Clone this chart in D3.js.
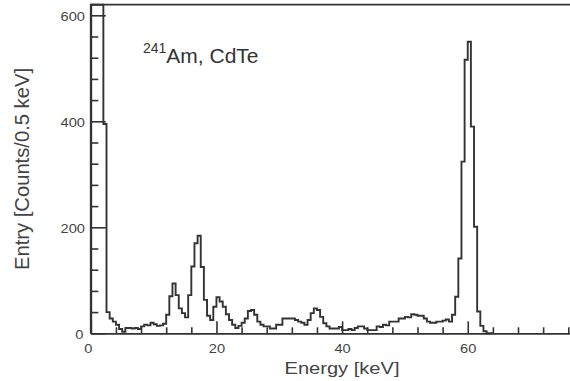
<!DOCTYPE html>
<html>
<head>
<meta charset="utf-8">
<script src="https://cdn.jsdelivr.net/npm/d3@7"></script>
<style>
  body { margin: 0; background: #fff; }
  svg { display: block; font-family: "Liberation Sans", Arial, sans-serif; }
  .axis path, .axis line { stroke: #333; stroke-width: 1.6; }
  .axis text { fill: #444; font-size: 12px; }
</style>
</head>
<body>
<svg id="chart" width="570" height="381"></svg>
<script>
// bin width 0.5 keV, first bin starts at 0 keV
var binWidth = 0.5;
var counts = [
  2000, 2000, 2000, 1500, 395, 40, 28, 22, 16, 8,
  3, 10, 10, 9, 10, 8, 13, 16, 15, 20,
  17, 14, 15, 18, 35, 70, 94, 72, 47, 38,
  30, 72, 126, 170, 184, 125, 63, 33, 25, 50,
  68, 60, 50, 36, 25, 16, 10, 14, 20, 28,
  42, 44, 35, 22, 16, 13, 13, 9, 9, 16,
  16, 28, 28, 28, 28, 25, 22, 20, 16, 25,
  38, 47, 44, 31, 19, 13, 9, 9, 9, 12,
  6, 6, 8, 6, 10, 13, 13, 9, 6, 6,
  6, 13, 12, 16, 15, 22, 22, 22, 28, 28,
  31, 30, 36, 35, 33, 33, 28, 22, 20, 20,
  22, 22, 24, 26, 22, 35, 69, 141, 324, 516,
  550, 390, 201, 41, 14, 4, 0, 0
];
var xMajor = [0, 20, 40, 60];
var yMajor = [0, 200, 400, 600];

var svg = d3.select("#chart");

var x = d3.scaleLinear().domain([0, 80]).range([90.8, 593.4]);
var y = d3.scaleLinear().domain([0, 620]).range([333.3, 4.7]).clamp(true);

// stretch text horizontally like the scanned figure
function stretch(sel, k) {
  sel.each(function() {
    var w = this.getComputedTextLength();
    d3.select(this).attr("textLength", w * k).attr("lengthAdjust", "spacingAndGlyphs");
  });
}

// minor ticks
var xMinor = d3.range(0, 80, 4).filter(function(d) { return d % 20 != 0; });
var yMinor = d3.range(0, 620, 40).filter(function(d) { return d % 200 != 0; });

svg.append("g").attr("class", "axis")
  .attr("transform", "translate(0,333.3)")
  .call(d3.axisBottom(x).tickValues(xMinor).tickSize(-6).tickSizeOuter(0).tickFormat(""));
svg.append("g").attr("class", "axis")
  .attr("transform", "translate(90.8,0)")
  .call(d3.axisLeft(y).tickValues(yMinor).tickSize(-7.5).tickSizeOuter(0).tickFormat(""));

var gx = svg.append("g").attr("class", "axis")
  .attr("transform", "translate(0,333.3)")
  .call(d3.axisBottom(x).tickValues(xMajor).tickSize(-12).tickSizeOuter(0).tickPadding(11.5));
var gy = svg.append("g").attr("class", "axis")
  .attr("transform", "translate(90.8,0)")
  .call(d3.axisLeft(y).tickValues(yMajor).tickSize(-15).tickSizeOuter(0).tickPadding(5.8));

gx.selectAll("text").filter(function(d) { return d == 0; }).attr("dx", -3);
gy.selectAll("text").attr("dy", "0.42em");
gy.selectAll("text").filter(function(d) { return d == 0; }).attr("dx", -1.5);
stretch(gx.selectAll("text"), 1.22);
stretch(gy.selectAll("text"), 1.22);

// top frame
svg.append("line")
  .attr("x1", x(0)).attr("x2", x(80))
  .attr("y1", y(620)).attr("y2", y(620))
  .attr("stroke", "#333").attr("stroke-width", 1.8);

// histogram outline
var pts = [[x(0), y(0)]];
counts.forEach(function(c, i) {
  pts.push([x(i * binWidth), y(c)]);
  pts.push([x((i + 1) * binWidth), y(c)]);
});
pts.push([x(counts.length * binWidth), y(0)]);

svg.append("path")
  .attr("d", d3.line()(pts))
  .attr("fill", "none")
  .attr("stroke", "#333")
  .attr("stroke-width", 1.9)
  .attr("stroke-linejoin", "miter");

// axis titles
var xt = svg.append("text")
  .attr("x", 342).attr("y", 374)
  .attr("text-anchor", "middle")
  .style("font-size", "17px").style("fill", "#444")
  .text("Energy [keV]");
xt.attr("textLength", 115).attr("lengthAdjust", "spacingAndGlyphs");

svg.append("text")
  .attr("transform", "translate(28.5,169) rotate(-90)")
  .attr("text-anchor", "middle")
  .style("font-size", "20.5px").style("fill", "#444")
  .attr("textLength", 202).attr("lengthAdjust", "spacingAndGlyphs")
  .text("Entry [Counts/0.5 keV]");

// source label
var lab = svg.append("text")
  .attr("x", 143).attr("y", 63)
  .style("fill", "#333");
lab.append("tspan").style("font-size", "14px").attr("dy", -10).text("241");
lab.append("tspan").style("font-size", "21px").attr("dy", 10).text("Am, CdTe");
</script>
</body>
</html>
